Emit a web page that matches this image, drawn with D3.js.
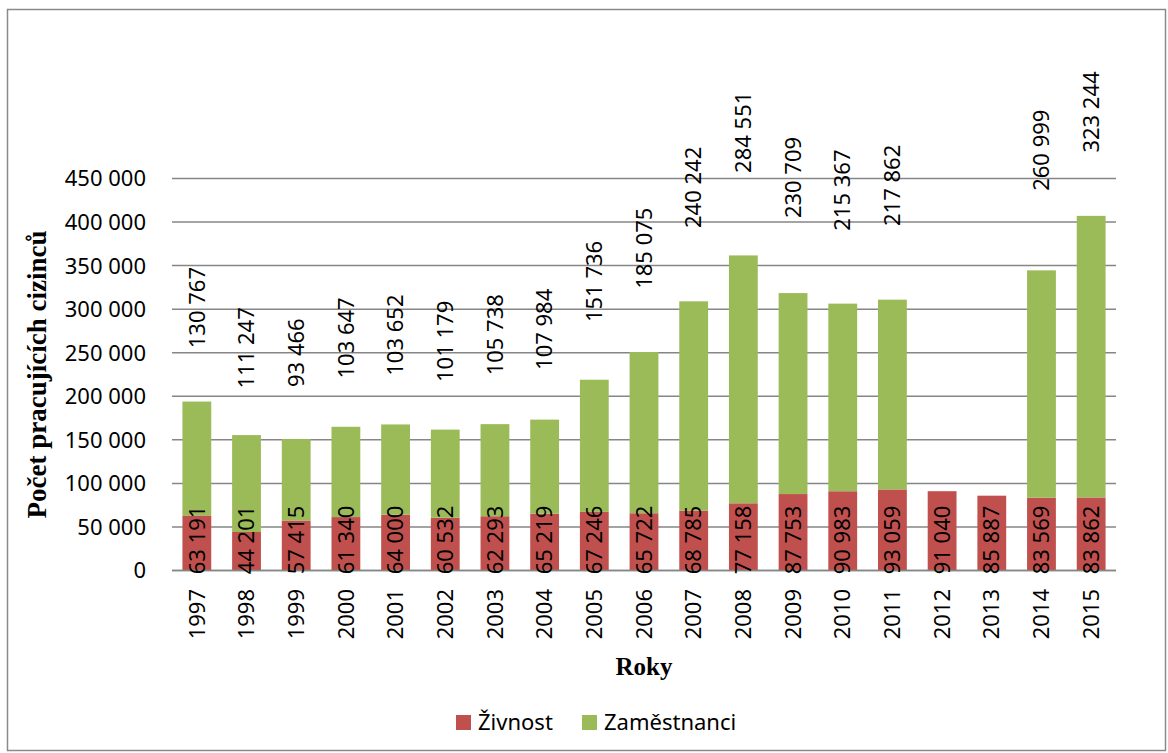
<!DOCTYPE html>
<html>
<head>
<meta charset="utf-8">
<script src="https://cdn.jsdelivr.net/npm/d3@7"></script>
<style>
  body { margin: 0; background: #fff; }
  text { font-family: "Noto Sans", sans-serif; fill: #000; }
</style>
</head>
<body>
<div id="chart"></div>
<script>
// data
var years = ["1997","1998","1999","2000","2001","2002","2003","2004","2005","2006",
             "2007","2008","2009","2010","2011","2012","2013","2014","2015"]
var zivnost = [63191,44201,57415,61340,64000,60532,62293,65219,67246,65722,
               68785,77158,87753,90983,93059,91040,85887,83569,83862]
var zamestnanci = [130767,111247,93466,103647,103652,101179,105738,107984,151736,185075,
                   240242,284551,230709,215367,217862,null,null,260999,323244]
var yTicks = [0,50000,100000,150000,200000,250000,300000,350000,400000,450000]
var seriesNames = ["Živnost", "Zaměstnanci"]
var colors = ["#C0504D", "#9BBB59"]

var width = 1168,
    height = 753
var plot = {left: 172, right: 1116, top: 178.5, bottom: 570.5}

var svg = d3.select("#chart")
  .append("svg")
    .attr("width", width)
    .attr("height", height)

svg.append("rect")
  .attr("width", width).attr("height", height)
  .attr("fill", "#fff")

// outer frame
svg.append("rect")
  .attr("x", 7.5).attr("y", 9.5)
  .attr("width", 1158).attr("height", 741)
  .attr("fill", "none")
  .attr("stroke", "#8a8a8a")
  .attr("stroke-width", 1.5)

var x = d3.scaleBand()
  .domain(years)
  .range([plot.left, plot.right])
  .paddingInner(0.42)
  .paddingOuter(0.21)

var y = d3.scaleLinear()
  .domain([0, 450000])
  .range([plot.bottom, plot.top])

var fmt = function(v) { return d3.format(",")(v).replace(/,/g, " ") }

// gridlines
svg.append("g")
  .selectAll("line")
  .data(yTicks)
  .enter()
  .append("line")
    .attr("x1", plot.left).attr("x2", plot.right)
    .attr("y1", d => y(d)).attr("y2", d => y(d))
    .attr("stroke", "#868686")
    .attr("stroke-width", 1.5)

// y axis labels
var yAxis = svg.append("g")
  .attr("transform", "translate(146,0)")
  .call(d3.axisLeft(y).tickValues(yTicks).tickFormat(fmt).tickSize(0).tickPadding(0))
yAxis.select(".domain").remove()
yAxis.selectAll("text")
  .style("font-family", "'Noto Sans', sans-serif")
  .style("font-size", "22px")
  .attr("fill", "#000")
  .attr("dy", "0.34em")

// stacked data
var rows = years.map(function(yr, i) {
  return {year: yr, red: zivnost[i], green: zamestnanci[i]}
})

// red bars
svg.append("g")
  .selectAll("rect")
  .data(rows)
  .enter()
  .append("rect")
    .attr("x", d => x(d.year))
    .attr("width", x.bandwidth())
    .attr("y", d => y(d.red))
    .attr("height", d => y(0) - y(d.red))
    .attr("fill", colors[0])

// green bars
svg.append("g")
  .selectAll("rect")
  .data(rows.filter(d => d.green != null))
  .enter()
  .append("rect")
    .attr("x", d => x(d.year))
    .attr("width", x.bandwidth())
    .attr("y", d => y(d.red + d.green))
    .attr("height", d => y(d.red) - y(d.red + d.green))
    .attr("fill", colors[1])

// baseline
svg.append("line")
  .attr("x1", plot.left).attr("x2", plot.right)
  .attr("y1", y(0)).attr("y2", y(0))
  .attr("stroke", "#868686")
  .attr("stroke-width", 1.5)

// red labels (sit low in the red segment)
svg.append("g")
  .selectAll("text")
  .data(rows)
  .enter()
  .append("text")
    .attr("transform", d => "translate(" + (x(d.year) + x.bandwidth() / 2) + "," + y(35000) + ") rotate(-90)")
    .attr("text-anchor", "middle")
    .attr("dy", "0.35em")
    .style("font-size", "22px")
    .text(d => fmt(d.red))

// green labels (float above the bars, like in the source)
svg.append("g")
  .selectAll("text")
  .data(rows.filter(d => d.green != null))
  .enter()
  .append("text")
    .attr("transform", function(d) {
      var cy = Math.max(y(1.2 * (d.red + d.green) + 69000), 112)
      return "translate(" + (x(d.year) + x.bandwidth() / 2) + "," + cy + ") rotate(-90)"
    })
    .attr("text-anchor", "middle")
    .attr("dy", "0.35em")
    .style("font-size", "22px")
    .text(d => fmt(d.green))

// x axis labels
svg.append("g")
  .selectAll("text")
  .data(years)
  .enter()
  .append("text")
    .attr("transform", d => "translate(" + (x(d) + x.bandwidth() / 2) + ",589) rotate(-90)")
    .attr("text-anchor", "end")
    .attr("dy", "0.35em")
    .style("font-size", "22px")
    .text(d => d)

// axis titles
svg.append("text")
  .attr("transform", "translate(46," + ((plot.top + plot.bottom) / 2) + ") rotate(-90)")
  .attr("text-anchor", "middle")
  .style("font-family", "'Liberation Serif', serif")
  .style("font-weight", "bold")
  .style("font-size", "27px")
  .text("Počet pracujících cizinců")

svg.append("text")
  .attr("x", (plot.left + plot.right) / 2)
  .attr("y", 675)
  .attr("text-anchor", "middle")
  .style("font-family", "'Liberation Serif', serif")
  .style("font-weight", "bold")
  .style("font-size", "25px")
  .text("Roky")

// legend
var legend = svg.append("g")
var legendX = [456, 582]
seriesNames.forEach(function(name, i) {
  legend.append("rect")
    .attr("x", legendX[i]).attr("y", 715)
    .attr("width", 15).attr("height", 15)
    .attr("fill", colors[i])
  legend.append("text")
    .attr("x", legendX[i] + 22).attr("y", 730)
    .style("font-size", "22px")
    .text(name)
})
</script>
</body>
</html>
